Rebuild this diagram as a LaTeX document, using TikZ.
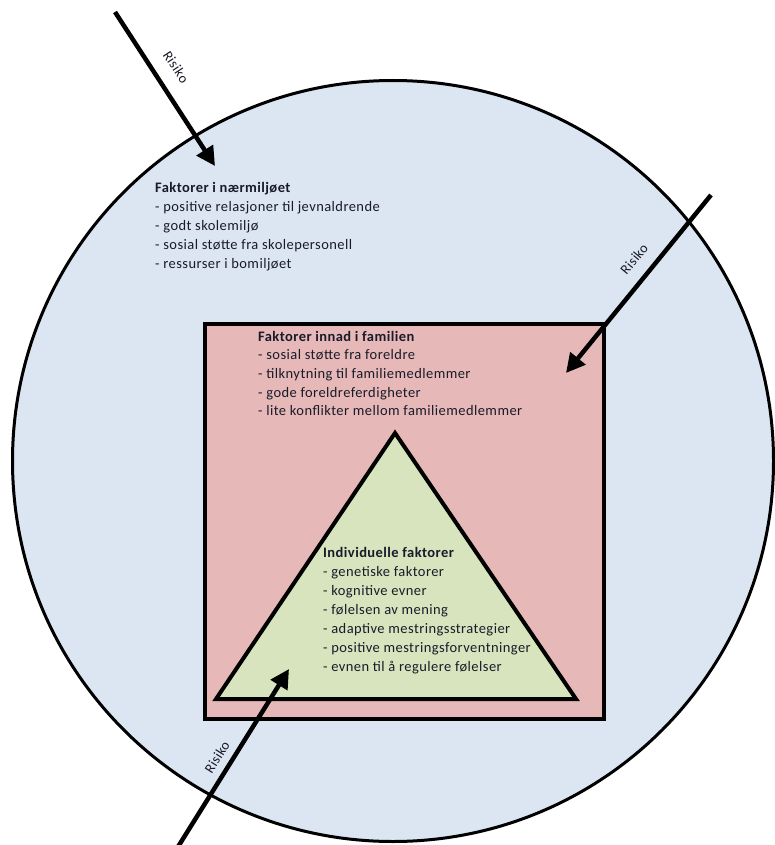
\documentclass[tikz,border=0pt]{standalone}
\usepackage{fontspec}
\setmainfont{Carlito}[LetterSpace=3]
\usetikzlibrary{arrows.meta}
\definecolor{outerblue}{HTML}{DCE6F2}
\definecolor{familyred}{HTML}{E6B9B8}
\definecolor{indgreen}{HTML}{D7E4BD}
\definecolor{txt}{HTML}{1A1A2A}
\tikzset{
  blocktext/.style={anchor=north west, inner sep=0pt, align=left, text=txt,
    font=\fontsize{14.5pt}{19pt}\selectfont},
  risk/.style={line width=4.5pt, -{Triangle[length=19pt,width=19pt]}},
  risklabel/.style={inner sep=0pt, text=txt, font=\fontsize{14pt}{16pt}\selectfont}
}
\begin{document}
\begin{tikzpicture}[x=1pt,y=-1pt]
\useasboundingbox (0,0) rectangle (775,845);
\begin{scope}
\clip (0,0) rectangle (775,845);
% outer circle
\node[circle, draw, line width=3pt, fill=outerblue, minimum size=761pt, inner sep=0pt] (env) at (393,461) {};
% family rectangle
\node[draw, line width=4pt, fill=familyred, minimum width=399pt, minimum height=395pt, inner sep=0pt, anchor=north west] (fam) at (203,322) {};
% individual triangle
\coordinate (tA) at (395,433);
\coordinate (tB) at (576,699);
\coordinate (tC) at (216,699);
\draw[line width=4pt, fill=indgreen, line join=miter] (tA) -- (tB) -- (tC) -- cycle;

% texts
\node[blocktext] (envtext) at (155,182) {\textbf{Faktorer i nærmiljøet}\\
- positive relasjoner til jevnaldrende\\
- godt skolemiljø\\
- sosial støtte fra skolepersonell\\
- ressurser i bomiljøet};
\node[blocktext, font=\fontsize{14.5pt}{18.6pt}\selectfont] (famtext) at (258,331) {\textbf{Faktorer innad i familien}\\
- sosial støtte fra foreldre\\
- tilknytning til familiemedlemmer\\
- gode foreldreferdigheter\\
- lite konflikter mellom familiemedlemmer};
\node[blocktext] (indtext) at (323,547) {\textbf{Individuelle faktorer}\\
- genetiske faktorer\\
- kognitive evner\\
- følelsen av mening\\
- adaptive mestringsstrategier\\
- positive mestringsforventninger\\
- evnen til å regulere følelser};

% risk arrows
\coordinate (r1s) at (115,12);
\coordinate (r1e) at (215,166);
\draw[risk] (r1s) -- (r1e);
\node[risklabel, rotate=-56.7] (r1l) at (176,67) {Risiko};

\coordinate (r2s) at (711,195);
\coordinate (r2e) at (566,373);
\draw[risk] (r2s) -- (r2e);
\node[risklabel, rotate=50.7] (r2l) at (634,259) {Risiko};

\coordinate (r3s) at (176,850);
\coordinate (r3e) at (289,669);
\draw[risk] (r3s) -- (r3e);
\node[risklabel, rotate=57.8] (r3l) at (217,757) {Risiko};
\end{scope}
\end{tikzpicture}
\end{document}
